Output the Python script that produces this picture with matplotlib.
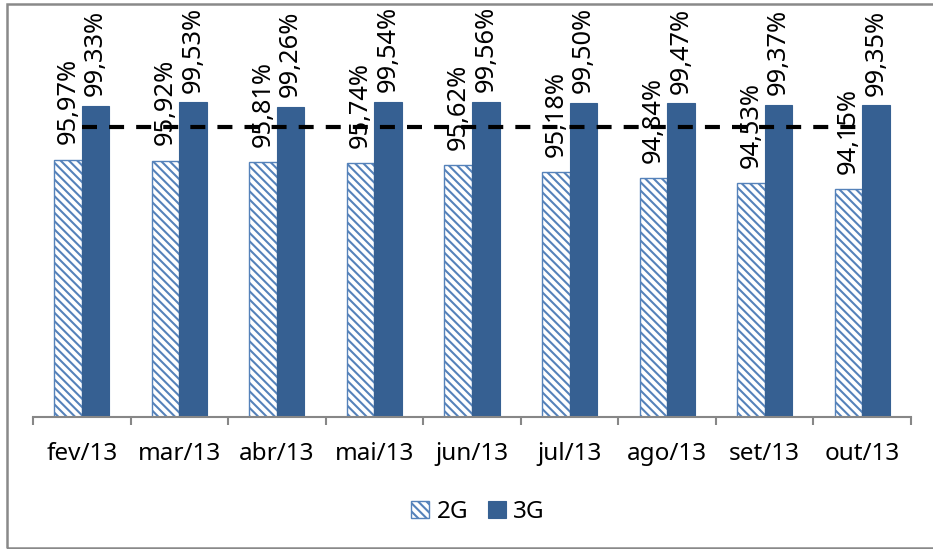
import numpy as np
import matplotlib
matplotlib.use('Agg')
import matplotlib.pyplot as plt
from matplotlib.patches import Rectangle

months = ['fev/13', 'mar/13', 'abr/13', 'mai/13', 'jun/13', 'jul/13', 'ago/13', 'set/13', 'out/13']
vals_2g = [95.97, 95.92, 95.81, 95.74, 95.62, 95.18, 94.84, 94.53, 94.15]
vals_3g = [99.33, 99.53, 99.26, 99.54, 99.56, 99.50, 99.47, 99.37, 99.35]
meta = 98.0  # dashed target line

blue = '#366092'
hatch_blue = '#5582BA'

plt.rcParams['font.family'] = ['Noto Sans', 'DejaVu Sans']
plt.rcParams['hatch.linewidth'] = 1.5
plt.rcParams['hatch.color'] = hatch_blue

fig = plt.figure(figsize=(9.33, 5.49), dpi=100)
ax = fig.add_axes([33 / 933, 1 - 417 / 549, (911 - 33) / 933, (417 - 94.8) / 549])

x = np.arange(len(months))
w = 0.283

b2 = ax.bar(x - w / 2, vals_2g, w, bottom=0, color='white', edgecolor=hatch_blue,
            hatch='\\\\\\\\', linewidth=1.0, label='2G', zorder=2)
b3 = ax.bar(x + w / 2, vals_3g, w, color=blue, edgecolor=blue, linewidth=0.8, label='3G', zorder=2)

ax.plot(x, [meta] * len(x), color='black', linewidth=3, dashes=(3.6, 2.9), zorder=3)

def fmt(v):
    return ('%.2f%%' % v).replace('.', ',')

for xi, v in zip(x, vals_2g):
    ax.annotate(fmt(v), (xi - w / 2, v), xytext=(0, 11), textcoords='offset points',
                rotation=90, ha='center', va='bottom', fontsize=18.3, zorder=4)
for xi, v in zip(x, vals_3g):
    ax.annotate(fmt(v), (xi + w / 2, v), xytext=(0, 7), textcoords='offset points',
                rotation=90, ha='center', va='bottom', fontsize=18.3, zorder=4)

ax.set_ylim(80, 100)
ax.set_xlim(-0.5, len(months) - 0.5)

for s in ['left', 'right', 'top']:
    ax.spines[s].set_visible(False)
ax.spines['bottom'].set_color('#878787')
ax.spines['bottom'].set_linewidth(1.5)
ax.set_yticks([])

ax.set_xticks(x)
ax.set_xticklabels(months, fontsize=17.5)
ax.set_xticks(np.arange(len(months) + 1) - 0.5, minor=True)
ax.tick_params(axis='x', which='major', length=0, pad=18)
ax.tick_params(axis='x', which='minor', length=6, width=1.5, color='#878787')

fig.legend(handles=[b2, b3], labels=['2G', '3G'], loc='center',
           bbox_to_anchor=(478 / 933, 1 - 512 / 549), ncol=2, frameon=False,
           fontsize=17.5, handlelength=0.75, handleheight=0.75, handletextpad=0.3,
           columnspacing=0.8)

# outer border
fig.patches.append(Rectangle((7 / 933, 1 / 549), 1.0, 544 / 549, transform=fig.transFigure,
                             fill=False, edgecolor='#898989', linewidth=1.8))

fig.savefig('out.png', dpi=100)
